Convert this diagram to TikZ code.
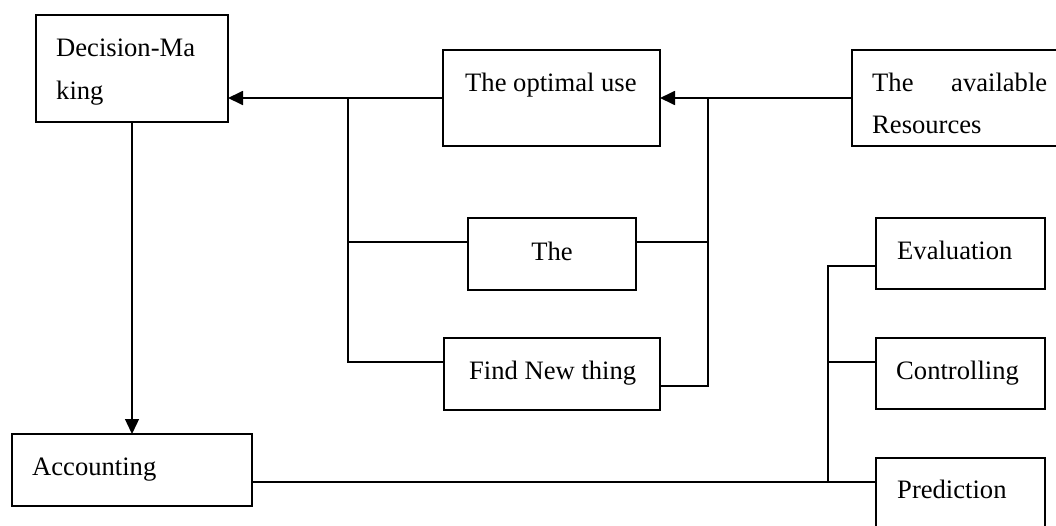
\documentclass[tikz,border=0pt]{standalone}
\usepackage{fontspec}
\setmainfont{Liberation Serif}
\usetikzlibrary{arrows.meta}
\begin{document}
\begin{tikzpicture}[x=1pt,y=-1pt,
  box/.style={draw, line width=1.8pt, rectangle, anchor=north west, inner sep=0pt, outer sep=0pt},
  lbl/.style={anchor=base west, inner sep=0pt, font=\fontsize{26.6}{42}\selectfont},
  conn/.style={line width=1.8pt},
  arr/.style={line width=1.8pt, -{Triangle[length=15pt,width=14pt]}},
  thinarr/.style={line width=1.3pt, -{Triangle[length=15pt,width=14pt]}}]
\useasboundingbox (0,0) rectangle (1056,525);
\clip (0,0) rectangle (1056,525);
% boxes
\node[box, minimum width=192pt, minimum height=107pt] (dm) at (36,15) {};
\node[box, minimum width=217pt, minimum height=96pt] (opt) at (443,50) {};
\node[box, minimum width=220pt, minimum height=96pt] (res) at (852,50) {};
\node[box, minimum width=168pt, minimum height=72pt] (the) at (468,218) {};
\node[box, minimum width=216pt, minimum height=72pt] (find) at (444,338) {};
\node[box, minimum width=240pt, minimum height=72pt] (acc) at (12,434) {};
\node[box, minimum width=169pt, minimum height=71pt] (eval) at (876,218) {};
\node[box, minimum width=169pt, minimum height=71pt] (ctrl) at (876,338) {};
\node[box, minimum width=169pt, minimum height=80pt] (pred) at (876,458) {};
% texts
\node[lbl] (t1) at (56,56) {Decision-Ma};
\node[lbl] (t2) at (56,99) {king};
\node[lbl] (t3) at (465,91) {The optimal use};
\node[lbl] (t4) at (872,91) {\hbox to 175pt{The\hfill available}};
\node[lbl] (t5) at (872,133) {Resources};
\node[lbl, anchor=base] (t6) at (552,260) {The};
\node[lbl] (t7) at (469,379) {Find New thing};
\node[lbl] (t8) at (32,475) {Accounting};
\node[lbl] (t9) at (897,259) {Evaluation};
\node[lbl] (t10) at (896,379) {Controlling};
\node[lbl] (t11) at (897,498) {Prediction};
% junction coordinates
\coordinate (j1) at (348,98);
\coordinate (j2) at (708,98);
\coordinate (thel) at (468,242);
\coordinate (ther) at (636,242);
\coordinate (findl) at (444,362);
\coordinate (findr) at (660,386);
\coordinate (evl) at (876,266);
\coordinate (ctl) at (876,362);
\coordinate (prl) at (876,482);
\coordinate (accr) at (252,482);
\coordinate (j3) at (828,482);
% connectors
\draw[arr] (opt.west) -- (dm.east |- opt.west);
\draw[conn] (thel) -| (j1);
\draw[conn] (findl) -| (j1);
\draw[arr] (res.west) -- (opt.east);
\draw[conn] (ther) -| (j2);
\draw[conn] (findr) -| (j2);
\draw[thinarr] (dm.south) -- (acc.north);
\draw[conn] (accr) -- (prl);
\draw[conn] (evl) -| (j3);
\draw[conn] (ctl) -| (j3);
\end{tikzpicture}
\end{document}
